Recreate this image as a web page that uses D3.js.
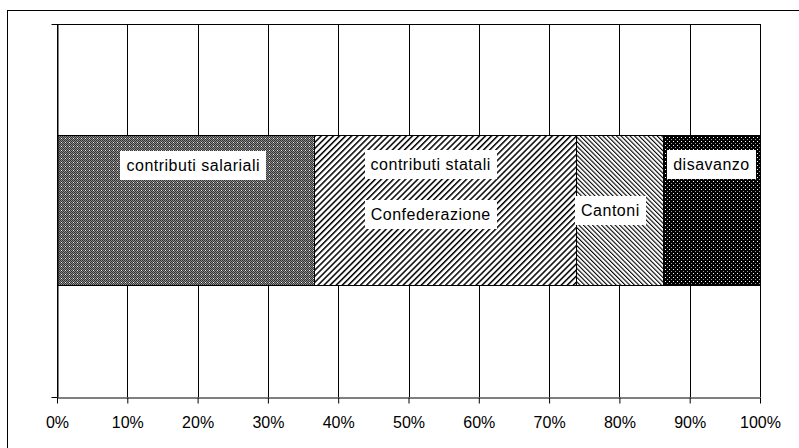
<!DOCTYPE html>
<html>
<head>
<meta charset="utf-8">
<script src="https://cdn.jsdelivr.net/npm/d3@7"></script>
<style>
body { margin: 0; background: #fff; }
text { font-family: "Liberation Sans", Arial, sans-serif; fill: #000; }
</style>
</head>
<body>
<div id="chart"></div>
<script>
const categories = ["contributi salariali", "Confederazione", "Cantoni", "disavanzo"];
const shares = [36.5, 37.3, 12.4, 13.8];
const labelLines = [["contributi salariali"], ["contributi statali", "Confederazione"], ["Cantoni"], ["disavanzo"]];
const tickValues = [0, 10, 20, 30, 40, 50, 60, 70, 80, 90, 100];
const tickLabels = ["0%", "10%", "20%", "30%", "40%", "50%", "60%", "70%", "80%", "90%", "100%"];

var width = 799;
var height = 448;
const margin = { top: 24, right: 39, bottom: 51, left: 57 };

var svg = d3.select("#chart").append("svg").attr("width", width).attr("height", height);

// patterns
var defs = svg.append("defs");

var p1 = defs.append("pattern").attr("id", "pSal").attr("width", 4).attr("height", 4).attr("patternUnits", "userSpaceOnUse");
p1.append("rect").attr("width", 4).attr("height", 4).attr("fill", "#8a8a8a");
[[0, 0], [2, 0], [1, 1], [3, 1], [0, 2], [2, 2], [1, 3], [3, 3]].forEach(d => p1.append("rect").attr("x", d[0]).attr("y", d[1]).attr("width", 1).attr("height", 1).attr("fill", "#333"));
p1.append("rect").attr("x", 1).attr("y", 2).attr("width", 1).attr("height", 1).attr("fill", "#eee");

var p2 = defs.append("pattern").attr("id", "pConf").attr("width", 4.3).attr("height", 10).attr("patternUnits", "userSpaceOnUse").attr("patternTransform", "rotate(45)");
p2.append("rect").attr("width", 4.3).attr("height", 10).attr("fill", "#fff");
p2.append("rect").attr("width", 1.5).attr("height", 10).attr("fill", "#000");

var p3 = defs.append("pattern").attr("id", "pCant").attr("width", 3.2).attr("height", 10).attr("patternUnits", "userSpaceOnUse").attr("patternTransform", "rotate(-45)");
p3.append("rect").attr("width", 3.2).attr("height", 10).attr("fill", "#fff");
p3.append("rect").attr("width", 1.1).attr("height", 10).attr("fill", "#000");

var p4 = defs.append("pattern").attr("id", "pDis").attr("width", 4).attr("height", 4).attr("patternUnits", "userSpaceOnUse");
p4.append("rect").attr("width", 4).attr("height", 4).attr("fill", "#000");
p4.append("rect").attr("x", 1).attr("y", 1).attr("width", 1).attr("height", 1).attr("fill", "#fff");
p4.append("rect").attr("x", 3).attr("y", 3).attr("width", 1).attr("height", 1).attr("fill", "#999");

const fills = ["url(#pSal)", "url(#pConf)", "url(#pCant)", "url(#pDis)"];

// outer frame
svg.append("rect").attr("x", 7.5).attr("y", 10.5).attr("width", 820).attr("height", 460).attr("fill", "none").attr("stroke", "#000");

let x = d3.scaleLinear().domain([0, 100]).range([margin.left, width - margin.right]);
let yAxisScale = d3.scaleLinear().domain([0, 1]).range([height - margin.bottom, margin.top]);
let y = d3.scaleBand().domain(["a"]).range([margin.top, height - margin.bottom]).paddingInner(0).paddingOuter(0.743);

// gridlines
svg.append("g").selectAll("line").data(tickValues).enter().append("line")
    .attr("x1", d => Math.round(x(d)) + 0.5).attr("x2", d => Math.round(x(d)) + 0.5)
    .attr("y1", margin.top).attr("y2", height - margin.bottom)
    .attr("stroke", "#000").attr("stroke-width", 1);

svg.append("line").attr("x1", margin.left).attr("x2", x(100) + 0.5).attr("y1", margin.top + 0.5).attr("y2", margin.top + 0.5).attr("stroke", "#000");

// stacked segments
let segs = [];
let acc = 0;
shares.forEach((v, i) => { segs.push({ name: categories[i], x0: acc, x1: acc + v, lines: labelLines[i], fill: fills[i] }); acc += v; });

svg.append("g").selectAll("rect").data(segs).enter().append("rect")
    .attr("x", d => Math.round(x(d.x0)) + 0.5).attr("width", d => Math.round(x(d.x1)) - Math.round(x(d.x0)))
    .attr("y", Math.round(y("a")) + 0.5).attr("height", Math.round(y.bandwidth()))
    .attr("fill", d => d.fill).attr("stroke", "#000").attr("stroke-width", 1);

// axes
svg.append("g").attr("transform", `translate(0, ${height - margin.bottom + 0.5})`)
    .call(d3.axisBottom(x).tickValues(tickValues).tickSize(6).tickSizeOuter(0).tickPadding(13).tickFormat((d, i) => tickLabels[i]))
    .call(g => g.selectAll("text").style("font-size", "16px").style("font-family", "Liberation Sans, Arial, sans-serif").attr("fill", "#000"))
    .call(g => g.selectAll("line,path").attr("stroke", "#000"));

svg.append("g").attr("transform", `translate(${margin.left + 0.5}, 0)`)
    .call(d3.axisLeft(yAxisScale).tickValues([0, 1]).tickSize(6).tickSizeOuter(0).tickFormat(""))
    .call(g => g.selectAll("line,path").attr("stroke", "#000"));

// labels
const labelNudge = [8, -14, -9, 0];
const rowOffset = [[30], [29, 79], [75], [29]];
segs.forEach((d, i) => {
    d.lines.forEach((t, j) => {
        let cx = x((d.x0 + d.x1) / 2) + labelNudge[i];
        let cy = y("a") + rowOffset[i][j];
        let g = svg.append("g");
        let box = g.append("rect").attr("fill", "#fff");
        let txt = g.append("text").attr("x", cx).attr("y", cy).attr("dy", "0.36em")
            .style("text-anchor", "middle").style("font-size", "16px").style("letter-spacing", "0.5px").text(t);
        let bb = txt.node().getBBox();
        box.attr("x", Math.round(cx - bb.width / 2 - 6)).attr("y", Math.round(cy - 14.5))
            .attr("width", Math.round(bb.width + 12)).attr("height", 29);
    });
});
</script>
</body>
</html>
